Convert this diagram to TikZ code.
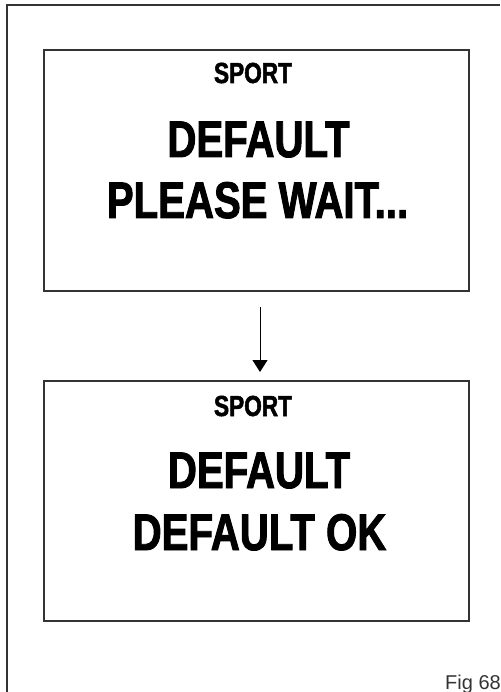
\documentclass[tikz,border=0pt]{standalone}
\usepackage{fontspec}
\setmainfont{Liberation Sans}
\newfontfamily\condbold[FakeStretch=0.78,FakeBold=1.8]{Liberation Sans Bold}
\newfontfamily\figfont{Liberation Sans}
\usetikzlibrary{arrows.meta}
\begin{document}
\begin{tikzpicture}[x=1pt,y=-1pt,
  frameline/.style={draw=black!80,line width=1.5pt},
  screenbox/.style={draw=black!80,line width=1.6pt,minimum width=425pt,minimum height=240pt,inner sep=0pt},
  smalltitle/.style={anchor=base,inner sep=0pt,font=\condbold\fontsize{29}{29}\selectfont},
  bigtext/.style={anchor=base,inner sep=0pt,font=\condbold\fontsize{51.5}{51.5}\selectfont},
  arrowline/.style={line width=1pt,-{Triangle[width=15pt,length=12pt]}}]
\useasboundingbox (0,0) rectangle (500,692);
% outer frame (left and top only)
\coordinate (fbl) at (7,692);
\coordinate (ftl) at (7,5);
\coordinate (ftr) at (500,5);
\draw[frameline] (fbl) -- (ftl) -- (ftr);
% boxes
\node[screenbox,minimum height=241pt] (box1) at (256.5,170.5) {};
\node[screenbox] (box2) at (256.5,501) {};
% texts box 1
\node[smalltitle] (s1) at (253,83) {SPORT};
\node[bigtext] (d1) at (258.5,157) {DEFAULT};
\node[bigtext] (w1) at (257.5,218) {PLEASE WAIT...};
% texts box 2
\node[smalltitle] (s2) at (253,416) {SPORT};
\node[bigtext] (d2) at (259,488) {DEFAULT};
\node[bigtext] (o2) at (259.5,550) {DEFAULT OK};
% arrow
\coordinate (a1) at (260,307);
\coordinate (a2) at (260,372);
\draw[arrowline] (a1) -- (a2);
% figure label
\node[anchor=base east,inner sep=0pt,text=black!80,font=\figfont\fontsize{20}{20}\selectfont] (fig) at (501,689) {Fig 68};
\end{tikzpicture}
\end{document}
